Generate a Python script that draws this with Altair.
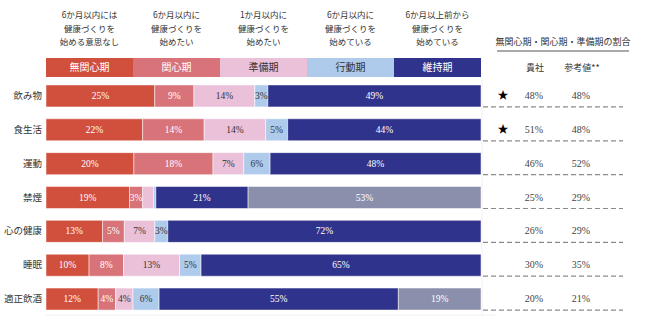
import altair as alt
import pandas as pd

# ---- data ----
rows = ["飲み物", "食生活", "運動", "禁煙", "心の健康", "睡眠", "適正飲酒"]
stages = ["無関心期", "関心期", "準備期", "行動期", "維持期", "その他"]
mukanshin = [25, 22, 20, 19, 13, 10, 12]
kanshin = [9, 14, 18, 3, 5, 8, 4]
junbi = [14, 14, 7, 2.5, 7, 13, 4]
koudou = [3, 5, 6, 0.5, 3, 5, 6]
iji = [49, 44, 48, 21, 72, 65, 55]
sonota = [0, 0, 0, 53, 0, 0, 19]
header = [
    "6か月以内には\n健康づくりを\n始める意思なし",
    "6か月以内に\n健康づくりを\n始めたい",
    "1か月以内に\n健康づくりを\n始めたい",
    "6か月以内に\n健康づくりを\n始めている",
    "6か月以上前から\n健康づくりを\n始めている",
]
yours = [48, 51, 46, 25, 26, 30, 20]
reference = [48, 48, 52, 29, 29, 35, 21]
star = [True, True, False, False, False, False, False]

stage_colors = ["#D14F3D", "#D8737A", "#EBC1DA", "#AECBEC", "#30338B", "#8A8FAB"]
JP = "Noto Sans CJK JP"
NUM = "Liberation Sans Narrow"

series = [mukanshin, kanshin, junbi, koudou, iji, sonota]
recs = []
for i, r in enumerate(rows):
    for k, (s, vals) in enumerate(zip(stages, series)):
        recs.append({"row": r, "stage": s, "order": k, "value": vals[i]})
df = pd.DataFrame(recs)

X = alt.Scale(domain=[0, 1], range=[46, 481])
Y = alt.Scale(domain=rows, range=[79, 316], paddingInner=0.35, paddingOuter=0.175)
color_scale = alt.Scale(domain=stages, range=stage_colors)

base = (
    alt.Chart(df)
    .transform_filter("datum.value > 0")
    .transform_stack(stack="value", groupby=["row"], sort=[alt.SortField("order")],
                     as_=["x0", "x1"], offset="normalize")
    .transform_calculate(mid="(datum.x0 + datum.x1) / 2",
                         label="format(datum.value, '.0f') + '%'",
                         tcol="indexof(['準備期','行動期'], datum.stage) >= 0 ? '#333333' : '#ffffff'")
)

bars = base.mark_bar(stroke="#ffffff", strokeWidth=0.5).encode(
    x=alt.X("x0:Q", scale=X, axis=None),
    x2="x1:Q",
    y=alt.Y("row:N", scale=Y, axis=None),
    color=alt.Color("stage:N", scale=color_scale, legend=None),
)

labels = base.transform_filter("datum.value >= 3").mark_text(fontSize=9.5, font=NUM).encode(
    x=alt.X("mid:Q", scale=X, axis=None),
    y=alt.Y("row:N", scale=Y, axis=None),
    text="label:N",
    color=alt.Color("tcol:N", scale=None),
)

cat_labels = alt.Chart(pd.DataFrame({"row": rows})).mark_text(
    align="right", fontSize=9.5, font=JP, color="#333333"
).encode(
    x=alt.value(42),
    y=alt.Y("row:N", scale=Y, axis=None),
    text="row:N",
)

# legend strip
leg = pd.DataFrame({
    "stage": stages[:5],
    "a": [i / 5 for i in range(5)],
    "b": [(i + 1) / 5 for i in range(5)],
    "m": [(i + 0.5) / 5 for i in range(5)],
    "head": header,
})
leg_bars = alt.Chart(leg).mark_bar().encode(
    x=alt.X("a:Q", scale=X, axis=None),
    x2="b:Q",
    y=alt.value(58),
    y2=alt.value(77),
    color=alt.Color("stage:N", scale=color_scale, legend=None),
)
leg_text = alt.Chart(leg).transform_calculate(
    tcol="indexof(['準備期','行動期'], datum.stage) >= 0 ? '#333333' : '#ffffff'"
).mark_text(fontSize=10, font=JP).encode(
    x=alt.X("m:Q", scale=X, axis=None),
    y=alt.value(67.5),
    text="stage:N",
    color=alt.Color("tcol:N", scale=None),
)
head_text = alt.Chart(leg).mark_text(
    fontSize=8.5, font=JP, color="#333333", lineBreak="\n", lineHeight=13.5, baseline="top"
).encode(
    x=alt.X("m:Q", scale=X, axis=None),
    y=alt.value(11),
    text="head:N",
)

# right table
tab = pd.DataFrame({"row": rows, "yours": [f"{v}%" for v in yours],
                    "ref": [f"{v}%" for v in reference], "star": star})
tbase = alt.Chart(tab)
t_yours = tbase.mark_text(fontSize=10, font=NUM, color="#444444").encode(
    x=alt.value(534), y=alt.Y("row:N", scale=Y, axis=None), text="yours:N")
t_ref = tbase.mark_text(fontSize=10, font=NUM, color="#444444").encode(
    x=alt.value(581), y=alt.Y("row:N", scale=Y, axis=None), text="ref:N")
t_star = tbase.transform_filter("datum.star").mark_text(fontSize=11, font=JP, color="#000000", text="★").encode(
    x=alt.value(503), y=alt.Y("row:N", scale=Y, axis=None))
t_dash = tbase.mark_rule(strokeDash=[5, 3], color="#8a8a8a", strokeWidth=1.2).encode(
    x=alt.value(483), x2=alt.value(623),
    y=alt.Y("row:N", scale=Y, axis=None, bandPosition=1),
)

one = pd.DataFrame({"t": ["無関心期・関心期・準備期の割合"]})
t_title = alt.Chart(one).mark_text(fontSize=9, font=JP, color="#333333").encode(
    x=alt.value(563), y=alt.value(42), text="t:N")
t_ul = alt.Chart(one).mark_rule(color="#555555", strokeWidth=1).encode(
    x=alt.value(497), x2=alt.value(629), y=alt.value(51))
cols = pd.DataFrame({"t": ["貴社", "参考値**"], "x": ["a", "b"]})
t_c1 = alt.Chart(cols).transform_filter("datum.x == 'a'").mark_text(fontSize=9, font=JP, color="#333333").encode(
    x=alt.value(535), y=alt.value(68), text="t:N")
t_c2 = alt.Chart(cols).transform_filter("datum.x == 'b'").mark_text(fontSize=9, font=JP, color="#333333").encode(
    x=alt.value(582), y=alt.value(68), text="t:N")

frame_v = alt.Chart(one).mark_rule(color="#f0f0f0").encode(
    x=alt.value(482), y=alt.value(80), y2=alt.value(315))
frame_h = alt.Chart(one).mark_rule(color="#f0f0f0").encode(
    x=alt.value(46), x2=alt.value(495), y=alt.value(315))

chart = alt.layer(
    frame_v, frame_h, bars, labels, cat_labels, leg_bars, leg_text, head_text,
    t_dash, t_yours, t_ref, t_star, t_title, t_ul, t_c1, t_c2,
).properties(
    width=650, height=321,
    autosize=alt.AutoSizeParams(type="none"),
    padding=0,
    background="#ffffff",
).configure_view(stroke=None)

chart.save("out.html", embed_options={"renderer": "svg", "actions": False})
